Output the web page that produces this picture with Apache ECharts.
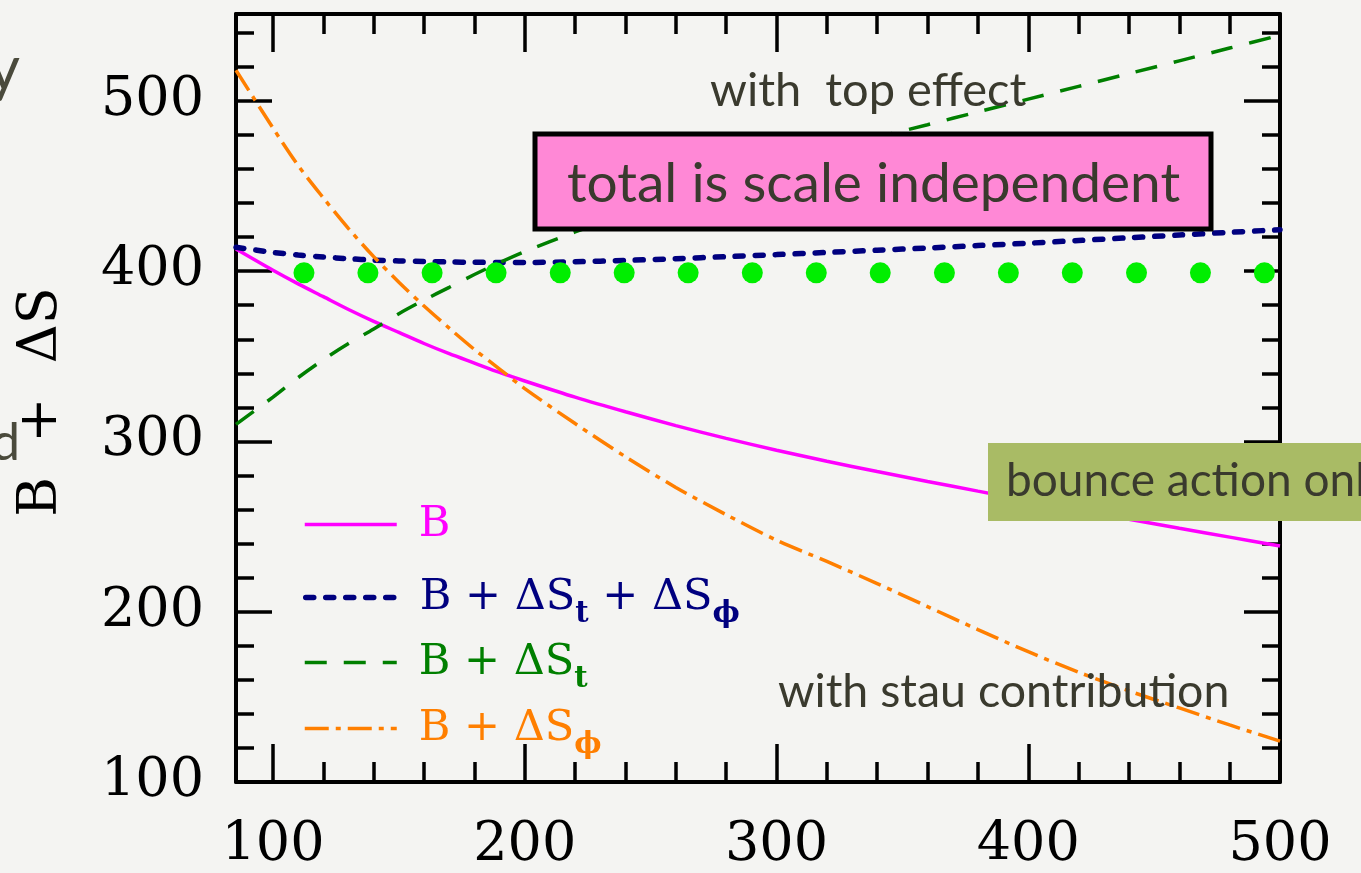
<!DOCTYPE html>
<html>
<head>
<meta charset="utf-8">
<script src="https://cdn.jsdelivr.net/npm/echarts@6/dist/echarts.min.js"></script>
<style>
  html, body { margin: 0; padding: 0; background: #f4f4f2; }
  #chart { width: 1361px; height: 873px; }
</style>
</head>
<body>
<div id="chart"></div>
<script>
// Scale axis (x) and action axis (y) ranges and tick positions
const X_MIN = 85.3, X_MAX = 500;
const Y_MIN = 100, Y_MAX = 551;
const xMajorTicks = [100, 200, 300, 400, 500];
const xMinorTicks = [120, 140, 160, 180, 220, 240, 260, 280, 320, 340, 360, 380, 420, 440, 460, 480];
const yMajorTicks = [100, 200, 300, 400, 500];
const yMinorTicks = [120, 140, 160, 180, 220, 240, 260, 280, 320, 340, 360, 380, 420, 440, 460, 480, 520, 540];

// Sample points shared by the four curves
const scaleX = [85.3, 100, 110, 120, 130, 140, 150, 160, 170, 180, 190, 200, 220, 240, 260, 280, 300, 320, 340, 360, 380, 400, 420, 440, 460, 480, 500];

// B (bounce action only)
const bounce = [413, 400.5, 392.5, 385, 377.5, 370.5, 364, 357.5, 351.5, 346, 340.5, 335.5, 326, 317.4, 309.3, 301.8, 294.8, 288.4, 282.3, 276.5, 270.8, 265.2, 259.7, 254.3, 249, 243.8, 238.6];
// B + ΔS_t + ΔS_φ
const bounceTopStau = [414, 411, 409.5, 408.3, 407.3, 406.5, 406, 405.7, 405.4, 405.2, 405.1, 405.1, 405.5, 406.3, 407.3, 408.5, 409.7, 411, 412.3, 413.6, 415, 416.4, 418, 419.6, 421.2, 422.8, 424.3];
// B + ΔS_t
const bounceTop = [310, 326, 337.5, 348, 357.5, 366, 375, 383, 390.5, 398, 405, 411.5, 423, 433.5, 443.5, 453, 462, 470.5, 478.5, 486, 493.5, 501, 508.5, 516, 523.5, 531, 538.5];
// B + ΔS_φ
const bounceStau = [518, 484, 462, 443, 425, 408.5, 393.5, 379.5, 366.5, 354, 342.5, 331, 310.5, 291, 273, 257, 242, 229.5, 216.5, 203, 189.5, 176.5, 164.5, 153.5, 143.5, 133.5, 124];

// Scale-independent total (large dots)
const totalDotX = [112.3, 137.7, 163.2, 188.6, 214.1, 239.5, 264.9, 290.4, 315.8, 341.2, 366.7, 392.1, 417.5, 443.0, 468.4, 493.8];
const totalDotY = 399;

const seriesNames = ['B', 'B + ΔSt + ΔSφ', 'B + ΔSt', 'B + ΔSφ'];
const legendRich = [
  '{m|B}',
  '{m|B + ΔS}{s|t}{m| + ΔS}{s|ϕ}',
  '{m|B + ΔS}{s|t}',
  '{m|B + ΔS}{s|ϕ}'
];

const colors = ['#ff00ff', '#00007f', '#007f00', '#ff7f00'];
const widths = [3.5, 5.5, 3.5, 3.5];
const dashes = ['solid', [8, 12], [22, 17], [24, 7, 5, 7]];
const caps = ['butt', 'round', 'butt', 'butt'];
const curves = [bounce, bounceTopStau, bounceTop, bounceStau];

const zip = (xs, ys) => xs.map((x, i) => [x, ys[i]]);

const serif = 'DejaVu Serif';
const sans = 'Lato';
const noteColor = '#3a3a2e';

const tickLine = { color: '#000', width: 3.5 };
const labelStyle = { fontFamily: serif, fontSize: 54, color: '#000' };

function xAxisDef(position, ticks, len, withLine, withLabel) {
  return {
    type: 'value', min: X_MIN, max: X_MAX, position: position,
    splitLine: { show: false },
    axisLine: { show: withLine, onZero: false, lineStyle: { color: '#000', width: 4 } },
    axisTick: { show: true, inside: true, length: len, lineStyle: tickLine, customValues: ticks },
    axisLabel: withLabel ? Object.assign({ show: true, margin: 37, customValues: ticks }, labelStyle) : { show: false }
  };
}
function yAxisDef(position, ticks, len, withLine, withLabel) {
  return {
    type: 'value', min: Y_MIN, max: Y_MAX, position: position,
    splitLine: { show: false },
    axisLine: { show: withLine, onZero: false, lineStyle: { color: '#000', width: 4 } },
    axisTick: { show: true, inside: true, length: len, lineStyle: tickLine, customValues: ticks },
    axisLabel: withLabel ? Object.assign({ show: true, margin: 32, customValues: ticks }, labelStyle) : { show: false }
  };
}

const legendTops = [498, 561, 626, 692];

const option = {
  backgroundColor: '#f4f4f2',
  animation: false,
  grid: { left: 236, right: 81, top: 14, bottom: 76, containLabel: false },
  xAxis: [
    xAxisDef('bottom', xMajorTicks, 38, true, true),
    xAxisDef('bottom', xMinorTicks, 20, false, false),
    xAxisDef('top', xMajorTicks, 38, true, false),
    xAxisDef('top', xMinorTicks, 20, false, false)
  ],
  yAxis: [
    yAxisDef('left', yMajorTicks, 36, true, true),
    yAxisDef('left', yMinorTicks, 18, false, false),
    yAxisDef('right', yMajorTicks, 36, true, false),
    yAxisDef('right', yMinorTicks, 18, false, false)
  ],
  legend: seriesNames.map((name, i) => ({
    data: [name],
    left: 298,
    top: legendTops[i],
    itemWidth: 92,
    itemHeight: 20,
    selectedMode: false,
    itemStyle: { color: 'rgba(0,0,0,0)', borderWidth: 0, opacity: 0 },
    lineStyle: { width: widths[i], type: dashes[i], color: colors[i], cap: caps[i] },
    formatter: () => legendRich[i],
    textStyle: {
      color: colors[i],
      padding: [0, 0, 0, 17],
      rich: {
        m: { fontFamily: serif, fontSize: 43, color: colors[i], lineHeight: 56 },
        s: { fontFamily: serif, fontSize: 29, fontWeight: 'bold', color: colors[i], lineHeight: 56, padding: [34, 0, 0, 0] }
      }
    }
  })),
  series: curves.map((ys, i) => ({
    name: seriesNames[i],
    type: 'line',
    xAxisIndex: 0, yAxisIndex: 0,
    data: zip(scaleX, ys),
    smooth: 0.3,
    symbol: 'none',
    showSymbol: false,
    clip: true,
    z: 3,
    lineStyle: { color: colors[i], width: widths[i], type: dashes[i], cap: caps[i] },
    itemStyle: { color: colors[i] }
  })).concat([{
    name: 'total',
    type: 'scatter',
    xAxisIndex: 0, yAxisIndex: 0,
    data: totalDotX.map(x => [x, totalDotY]),
    symbol: 'circle',
    symbolSize: 21,
    itemStyle: { color: '#00ee00', opacity: 1 },
    z: 4
  }]),
  graphic: [
    {
      type: 'text', x: 42, y: 402, rotation: Math.PI / 2, z: 10,
      style: { text: 'B  +  ΔS', fontFamily: serif, fontSize: 54, fill: '#000', align: 'center', verticalAlign: 'middle' }
    },
    {
      type: 'text', x: 20, y: 70, z: 10,
      style: { text: 'y', fontFamily: sans, fontSize: 62, fill: '#4a4a3c', align: 'right', verticalAlign: 'middle' }
    },
    {
      type: 'text', x: 20, y: 443, z: 10,
      style: { text: 'd', fontFamily: sans, fontSize: 52, fill: '#4a4a3c', align: 'right', verticalAlign: 'middle' }
    },
    {
      type: 'text', x: 710, y: 91, z: 10,
      style: { text: 'with  top effect', fontFamily: sans, fontSize: 47, fill: noteColor, align: 'left', verticalAlign: 'middle' }
    },
    {
      type: 'rect', z: 20,
      shape: { x: 535, y: 134, width: 676, height: 95 },
      style: { fill: '#ff88d6', stroke: '#000', lineWidth: 5 }
    },
    {
      type: 'text', x: 567, y: 184, z: 21,
      style: { text: 'total is scale independent', fontFamily: sans, fontSize: 55, fill: noteColor, align: 'left', verticalAlign: 'middle' }
    },
    {
      type: 'rect', z: 20,
      shape: { x: 988, y: 443, width: 420, height: 78 },
      style: { fill: '#a9bb65' }
    },
    {
      type: 'text', x: 1006, y: 481, z: 21,
      style: { text: 'bounce action only', fontFamily: sans, fontSize: 46, fill: noteColor, align: 'left', verticalAlign: 'middle' }
    },
    {
      type: 'text', x: 778, y: 692, z: 10,
      style: { text: 'with stau contribution', fontFamily: sans, fontSize: 46.5, fill: noteColor, align: 'left', verticalAlign: 'middle' }
    }
  ]
};

const chart = echarts.init(document.getElementById('chart'), null, { renderer: 'canvas' });
chart.setOption(option);
</script>
</body>
</html>
